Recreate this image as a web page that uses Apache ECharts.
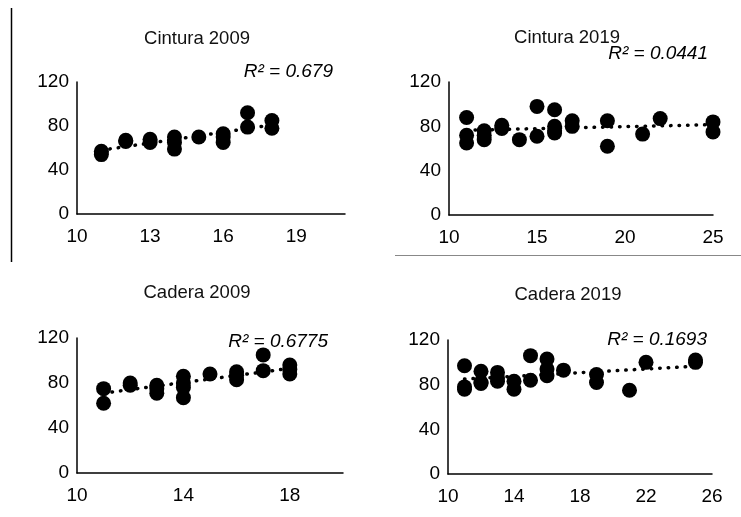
<!DOCTYPE html>
<html>
<head>
<meta charset="utf-8">
<script src="https://cdn.jsdelivr.net/npm/echarts@6/dist/echarts.min.js"></script>
<style>html,body{margin:0;padding:0;background:#fff}#c{width:741px;height:517px}</style>
</head>
<body>
<div id="c"></div>
<script>
// ---- data ----
const titles = ["Cintura 2009", "Cintura 2019", "Cadera 2009", "Cadera 2019"];
const r2Labels = ["R² = 0.679", "R² = 0.0441", "R² = 0.6775", "R² = 0.1693"];

const cintura2009 = [[11,54],[11,57],[12,66],[12,67],[13,65],[13,68],[14,70],[14,65],[14,59],[15,70],[16,73],[16,70],[16,65],[17,92],[17,79],[18,85],[18,78]];
const cintura2019 = [[11,88],[11,72],[11,65],[12,76],[12,72],[12,68],[13,81],[13,78],[14,68],[15,98],[15,71],[16,95],[16,80],[16,76],[16,74],[17,85],[17,80],[19,85],[19,62],[21,73],[22,87],[25,84],[25,75]];
const cadera2009 = [[11,75],[11,62],[12,80],[12,78],[13,78],[13,75],[13,71],[14,86],[14,80],[14,76],[14,67],[15,88],[16,90],[16,87],[16,83],[17,105],[17,91],[18,96],[18,92],[18,88]];
const cadera2019 = [[11,97],[11,78],[11,76],[12,92],[12,82],[12,81],[13,91],[13,86],[13,83],[14,83],[14,76],[15,106],[15,84],[16,103],[16,94],[16,88],[17,93],[19,89],[19,82],[21,75],[22,100],[25,102],[25,100]];

// trendline endpoints
const trend1 = [[11,58],[18,81]];
const trend2 = [[11,76.5],[25,81.5]];
const trend3 = [[11,71],[18,93]];
const trend4 = [[11,85],[25,96.5]];

const xRanges = [[10,21,3],[10,25,5],[10,20,4],[10,26,4]];
const yTicks = [0, 40, 80, 120];

// ---- layout ----
const grids = [
  {left:77, top:82, width:268, height:132},
  {left:449, top:82, width:264, height:133},
  {left:77, top:338, width:266, height:135},
  {left:448, top:340, width:264, height:134}
];
const titlePos = [[197,29],[567,28],[197,283],[568,285]];
const r2Pos = [[333,62],[708,44],[328,332],[707,330]];

const scatterData = [cintura2009, cintura2019, cadera2009, cadera2019];
const trendData = [trend1, trend2, trend3, trend4];
const font = "'Liberation Sans', Arial, sans-serif";

const xAxis = [], yAxis = [], series = [], title = [];
for (let i = 0; i < 4; i++) {
  const [mn, mx, iv] = xRanges[i];
  xAxis.push({
    type:'value', gridIndex:i, min:mn, max:mx, interval:iv,
    axisLine:{show:true, onZero:false, lineStyle:{color:'#000', width:1.5}},
    axisTick:{show:false}, splitLine:{show:false},
    axisLabel:{color:'#000', fontSize:19, fontFamily:font, margin:13, showMaxLabel: (mx - mn) % iv === 0}
  });
  yAxis.push({
    type:'value', gridIndex:i, min:yTicks[0], max:yTicks[yTicks.length-1], interval:40,
    axisLine:{show:true, lineStyle:{color:'#000', width:1.5}},
    axisTick:{show:false}, splitLine:{show:false},
    axisLabel:{color:'#000', fontSize:19, fontFamily:font, margin:8}
  });
  series.push({
    type:'line', xAxisIndex:i, yAxisIndex:i, data:trendData[i], symbol:'none', silent:true,
    lineStyle:{color:'#000', width:3.5, type:[0.5,8], cap:'round'}, z:3
  });
  series.push({
    type:'scatter', xAxisIndex:i, yAxisIndex:i, data:scatterData[i], symbolSize:15,
    itemStyle:{color:'#000', opacity:1}, z:2
  });
  title.push({
    text:titles[i], left:titlePos[i][0], top:titlePos[i][1], textAlign:'center', padding:0,
    textStyle:{color:'#111', fontSize:18.5, fontWeight:'normal', fontFamily:font}
  });
  title.push({
    text:r2Labels[i], left:r2Pos[i][0], top:r2Pos[i][1], textAlign:'right', padding:0,
    textStyle:{color:'#000', fontSize:19, fontStyle:'italic', fontWeight:'normal', fontFamily:font}
  });
}

const chart = echarts.init(document.getElementById('c'), null, {renderer:'canvas'});
chart.setOption({
  animation:false,
  backgroundColor:'#fff',
  title, grid:grids, xAxis, yAxis, series,
  graphic:[
    {type:'line', shape:{x1:11.5, y1:8, x2:11.5, y2:262}, style:{stroke:'#000', lineWidth:1.5}},
    {type:'line', shape:{x1:395, y1:255.5, x2:741, y2:255.5}, style:{stroke:'#888', lineWidth:1}}
  ]
});
</script>
</body>
</html>
